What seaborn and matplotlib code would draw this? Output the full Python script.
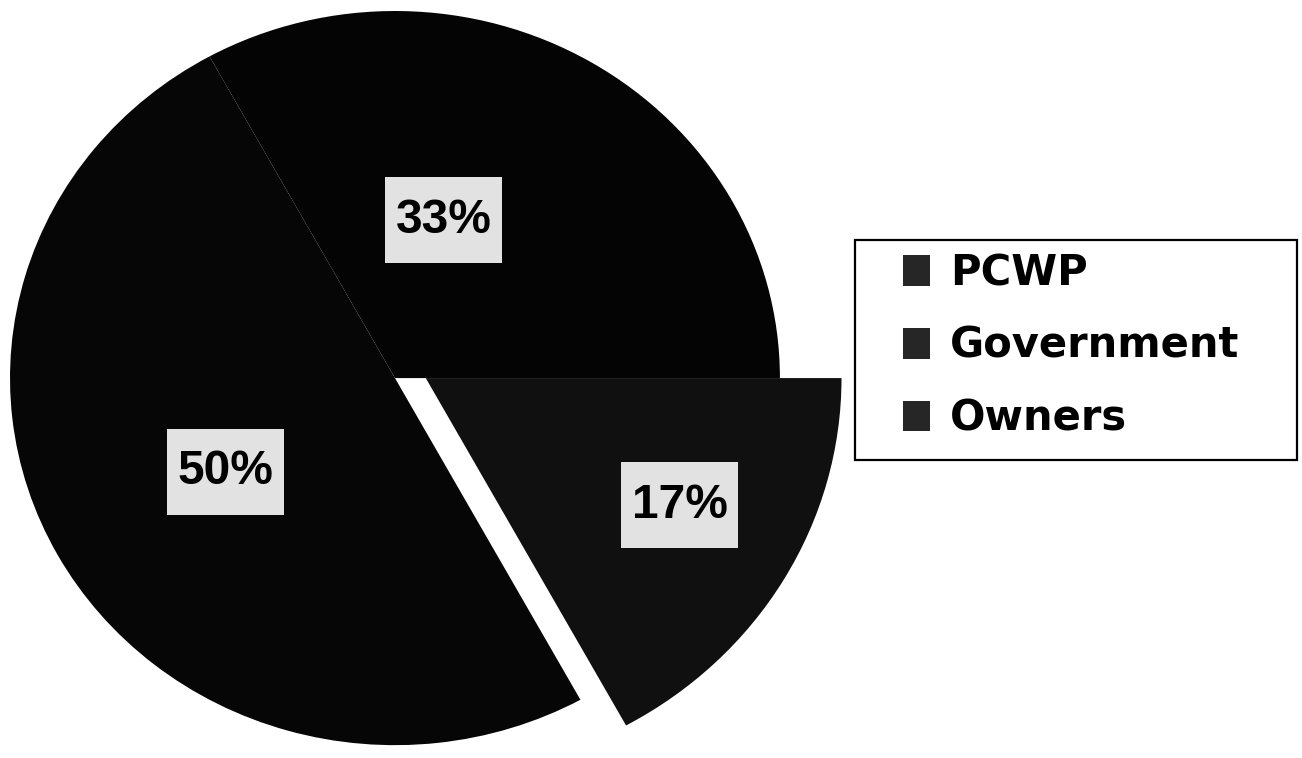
import matplotlib
matplotlib.use("Agg")
import matplotlib.pyplot as plt
from matplotlib.patches import Rectangle
import seaborn as sns
import numpy as np

# ---- data ----
categories = ["PCWP", "Government", "Owners"]
values = [50, 33, 17]
pct_labels = ["50%", "33%", "17%"]

# ---- style ----
slice_colors = ["#060606", "#040404", "#101010"]
owners_offset = (0.08, 0.0)      # exploded slice shift (axes data units)
owners_radius = 1.08
label_dist = [0.51, 0.449, 0.745]
label_shift_deg = [1.3, 14.15, 2.9]
box_pad_px = (10.5, 20.5)

sns.set_theme(style="white")
plt.rcParams["font.family"] = ["Liberation Sans", "DejaVu Sans"]

W, H = 1302, 758
fig = plt.figure(figsize=(W / 100, H / 100), dpi=100)
fig.patch.set_facecolor("white")
ax = fig.add_axes([0, 0, 860 / W, 1])

start = -360.0 * values[2] / sum(values)
wedges, _ = ax.pie(values, colors=slice_colors, startangle=start,
                   counterclock=False, wedgeprops=dict(linewidth=0))
wedges[2].set_center(owners_offset)
wedges[2].set_radius(owners_radius)

ax.set_aspect("auto")
ax.set_xlim(-1.026, 1.208)
ax.set_ylim(-1.035, 1.030)
ax.axis("off")

texts = []
for w, lab, d, sh in zip(wedges, pct_labels, label_dist, label_shift_deg):
    mid = np.deg2rad((w.theta1 + w.theta2) / 2 + sh)
    cx, cy = w.center
    t = ax.text(cx + d * np.cos(mid), cy + d * np.sin(mid), lab,
                ha="center", va="center", fontsize=34.5, fontweight="bold",
                color="black", zorder=5)
    texts.append(t)

# label boxes sized around the text extents
fig.canvas.draw()
r = fig.canvas.get_renderer()
for t in texts:
    bb = t.get_window_extent(r)
    px, py = box_pad_px
    rect = Rectangle(((bb.x0 - px) / W, (bb.y0 - py) / H),
                     (bb.width + 2 * px) / W, (bb.height + 2 * py) / H,
                     transform=fig.transFigure, facecolor="#e2e2e2",
                     edgecolor="none", zorder=4)
    ax.add_patch(rect)
    rect.set_clip_on(False)

leg = fig.legend(wedges, categories, loc="upper left",
                 bbox_to_anchor=(903 / W, 1 - 252 / H),
                 borderaxespad=0, borderpad=0, frameon=False,
                 prop=dict(family="DejaVu Sans", weight="bold", size=30),
                 handlelength=0.65, handleheight=0.75, handletextpad=0.48,
                 labelspacing=0.74)
for txt in leg.get_texts():
    txt.set_color("black")
for h in leg.legend_handles:
    h.set_facecolor("#262626")

frame = Rectangle((855 / W, 1 - 460 / H), 442 / W, 220 / H,
                  transform=fig.transFigure, fill=False,
                  edgecolor="black", linewidth=1.6)
fig.add_artist(frame)

fig.savefig("out.png", dpi=100, facecolor="white")
